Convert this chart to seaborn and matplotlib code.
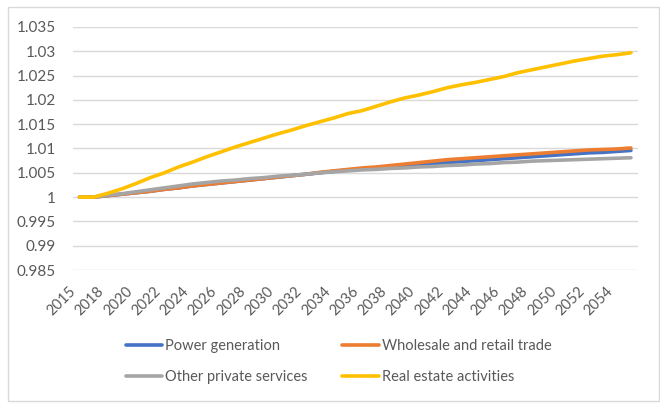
import matplotlib
matplotlib.use("Agg")
import matplotlib.pyplot as plt
import matplotlib.transforms as mtransforms
from matplotlib.patches import Rectangle
from matplotlib.lines import Line2D
import seaborn as sns
import pandas as pd

years = [2015] + list(range(2017, 2056))

power_generation = [1.0, 1.0, 1.0003, 1.0006, 1.0009, 1.0012, 1.0016, 1.0019, 1.0023, 1.0026,
                    1.0029, 1.0032, 1.0035, 1.0038, 1.0041, 1.0044, 1.0047, 1.0050, 1.0053, 1.0056,
                    1.0058, 1.0060, 1.0062, 1.0065, 1.0067, 1.0069, 1.0071, 1.0073, 1.0075, 1.0077,
                    1.0079, 1.0081, 1.0083, 1.0085, 1.0087, 1.0089, 1.0091, 1.0092, 1.0094, 1.0096]
wholesale_retail = [1.0, 1.0, 1.0003, 1.0006, 1.0009, 1.0012, 1.0016, 1.0019, 1.0023, 1.0026,
                    1.0029, 1.0032, 1.0035, 1.0038, 1.0041, 1.0044, 1.0047, 1.0051, 1.0054, 1.0057,
                    1.0060, 1.0062, 1.0065, 1.0068, 1.0071, 1.0074, 1.0077, 1.0079, 1.0081, 1.0083,
                    1.0085, 1.0087, 1.0089, 1.0091, 1.0093, 1.0095, 1.0097, 1.0098, 1.0099, 1.0101]
other_private = [1.0, 1.0, 1.0004, 1.0007, 1.0011, 1.0015, 1.0019, 1.0023, 1.0027, 1.0030,
                 1.0033, 1.0035, 1.0038, 1.0040, 1.0043, 1.0045, 1.0047, 1.0050, 1.0052, 1.0054,
                 1.0056, 1.0057, 1.0059, 1.0060, 1.0062, 1.0063, 1.0065, 1.0066, 1.0068, 1.0069,
                 1.0071, 1.0072, 1.0074, 1.0075, 1.0076, 1.0077, 1.0078, 1.0079, 1.0080, 1.0081]
real_estate = [1.0, 1.0, 1.0008, 1.0017, 1.0028, 1.0040, 1.0050, 1.0062, 1.0072, 1.0083,
               1.0093, 1.0103, 1.0112, 1.0121, 1.0130, 1.0138, 1.0147, 1.0155, 1.0163, 1.0172,
               1.0178, 1.0187, 1.0196, 1.0204, 1.0210, 1.0217, 1.0225, 1.0231, 1.0236, 1.0242,
               1.0248, 1.0256, 1.0262, 1.0268, 1.0274, 1.0280, 1.0285, 1.0290, 1.0293, 1.0297]

series_names = ["Power generation", "Wholesale and retail trade",
                "Other private services", "Real estate activities"]
series_values = [power_generation, wholesale_retail, other_private, real_estate]
colors = ["#4472C4", "#ED7D31", "#A5A5A5", "#FFC000"]

y_ticks = [0.985, 0.99, 0.995, 1.0, 1.005, 1.01, 1.015, 1.02, 1.025, 1.03, 1.035]
y_tick_labels = ["0.985", "0.99", "0.995", "1", "1.005", "1.01", "1.015", "1.02", "1.025", "1.03", "1.035"]

rows = []
for name, vals in zip(series_names, series_values):
    for i, (yr, v) in enumerate(zip(years, vals)):
        rows.append({"pos": i, "year": yr, "value": v, "series": name})
df = pd.DataFrame(rows)

sns.set_theme(style="white")
plt.rcParams['font.family'] = ['Lato', 'DejaVu Sans']
text_color = "#595959"

fig = plt.figure(figsize=(6.6, 4.03), dpi=100)
ax = fig.add_axes([72.5 / 660, 1 - 270 / 403, 565.5 / 660, 243 / 403])

sns.lineplot(data=df, x="pos", y="value", hue="series", hue_order=series_names,
             palette=colors, linewidth=2.6, ax=ax, legend=False, estimator=None,
             solid_capstyle="round")

ax.set_xlim(-0.5, len(years) - 0.5)
ax.set_ylim(0.985, 1.035)
ax.set_yticks(y_ticks)
ax.set_yticklabels(y_tick_labels)
ax.yaxis.grid(True, color="#D9D9D9", linewidth=1.0)
ax.xaxis.grid(False)
for s in ax.spines.values():
    s.set_visible(False)
ax.set_xlabel("")
ax.set_ylabel("")

tick_pos = list(range(0, len(years), 2))
ax.set_xticks(tick_pos)
ax.set_xticklabels([str(years[i]) for i in tick_pos], rotation=45, ha="right",
                   va="center", rotation_mode="anchor")
ax.tick_params(axis="x", length=0, pad=14, labelsize=10.5, labelcolor=text_color)
ax.tick_params(axis="y", length=0, pad=12, labelsize=11, labelcolor=text_color)
offset = mtransforms.ScaledTranslation(-6 / 100, 0, fig.dpi_scale_trans)
for lab in ax.get_xticklabels():
    lab.set_transform(lab.get_transform() + offset)

handles = [Line2D([], [], color=c, linewidth=2.6) for c in colors]
order = [0, 2, 1, 3]
leg = fig.legend([handles[i] for i in order], [series_names[i] for i in order],
                 loc="center", bbox_to_anchor=(0.513, 1 - 361.7 / 403), ncol=2,
                 frameon=False, fontsize=10.5, handlelength=2.5, handletextpad=0.2,
                 columnspacing=2.4, labelspacing=1.2)
for t in leg.get_texts():
    t.set_color(text_color)

fig.patches.append(Rectangle((8 / 660, 1 - 401 / 403), 651 / 660, 394 / 403,
                             transform=fig.transFigure, fill=False,
                             edgecolor="#D9D9D9", linewidth=1.0))

fig.savefig("out.png", dpi=100)
